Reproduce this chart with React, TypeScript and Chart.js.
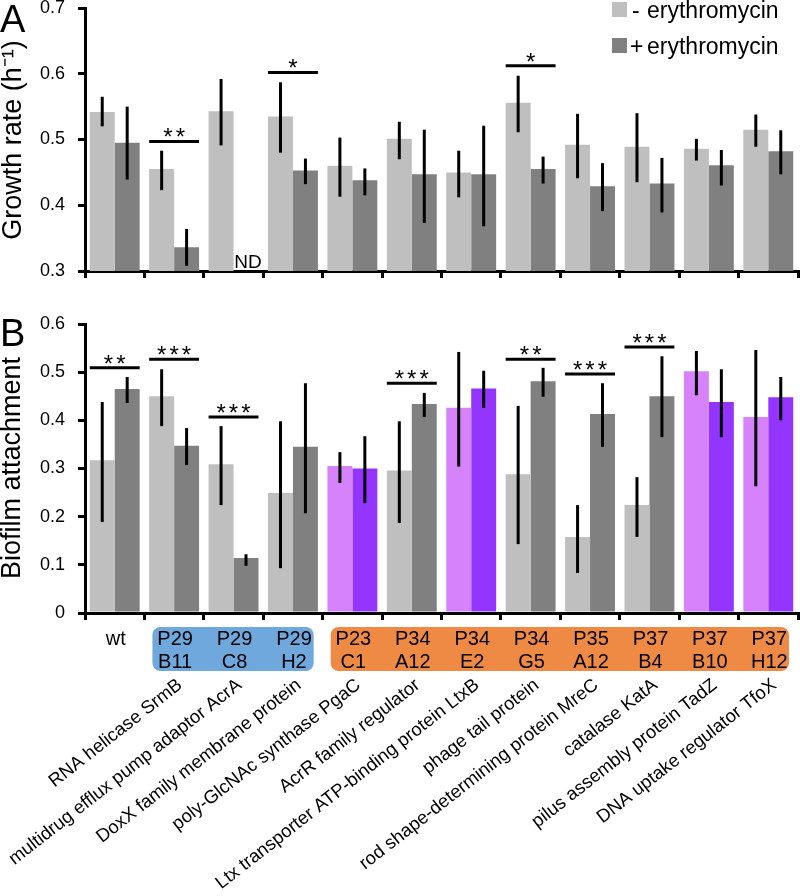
import React, { useEffect, useRef } from 'react';
import { Chart, registerables } from 'chart.js';
Chart.register(...registerables);

// ---------- data ----------
const categories = ['wt', 'P29 B11', 'P29 C8', 'P29 H2', 'P23 C1', 'P34 A12', 'P34 E2', 'P34 G5', 'P35 A12', 'P37 B4', 'P37 B10', 'P37 H12'];
const geneNames = [
  '',
  'RNA helicase SrmB',
  'multidrug efflux pump adaptor AcrA',
  'DoxX family membrane protein',
  'poly-GlcNAc synthase PgaC',
  'AcrR family regulator',
  'Ltx transporter ATP-binding protein LtxB',
  'phage tail protein',
  'rod shape-determining protein MreC',
  'catalase KatA',
  'pilus assembly protein TadZ',
  'DNA uptake regulator TfoX',
];
const highlighted = [false, false, false, false, true, false, true, false, false, false, true, true];
const groupFrom = [1, 4];
const groupTo = [3, 11];

const seriesLabels = ['- erythromycin', '+ erythromycin'];

const growthMinus = [0.542, 0.455, 0.543, 0.535, 0.460, 0.501, 0.450, 0.556, 0.492, 0.489, 0.486, 0.515];
const growthPlus = [0.495, 0.336, null, 0.453, 0.438, 0.447, 0.447, 0.455, 0.429, 0.433, 0.461, 0.482];
const growthMinusLow = [0.520, 0.423, 0.491, 0.480, 0.413, 0.470, 0.412, 0.511, 0.441, 0.435, 0.468, 0.489];
const growthMinusHigh = [0.565, 0.483, 0.592, 0.587, 0.503, 0.527, 0.483, 0.597, 0.539, 0.540, 0.501, 0.538];
const growthPlusLow = [0.439, 0.308, null, 0.432, 0.415, 0.373, 0.368, 0.433, 0.391, 0.389, 0.430, 0.447];
const growthPlusHigh = [0.550, 0.364, null, 0.471, 0.456, 0.515, 0.521, 0.474, 0.464, 0.472, 0.484, 0.514];

const biofilmMinus = [0.317, 0.450, 0.309, 0.249, 0.305, 0.296, 0.426, 0.288, 0.158, 0.224, 0.502, 0.407];
const biofilmPlus = [0.465, 0.347, 0.114, 0.345, 0.300, 0.434, 0.466, 0.481, 0.413, 0.450, 0.438, 0.448];
const biofilmMinusLow = [0.189, 0.388, 0.224, 0.093, 0.270, 0.187, 0.304, 0.143, 0.083, 0.158, 0.452, 0.263];
const biofilmMinusHigh = [0.438, 0.506, 0.388, 0.398, 0.334, 0.398, 0.542, 0.430, 0.224, 0.282, 0.544, 0.546];
const biofilmPlusLow = [0.436, 0.307, 0.098, 0.207, 0.228, 0.407, 0.426, 0.449, 0.345, 0.365, 0.365, 0.400];
const biofilmPlusHigh = [0.490, 0.384, 0.122, 0.477, 0.367, 0.457, 0.503, 0.509, 0.477, 0.533, 0.506, 0.490];

const sigACats = [1, 3, 7];
const sigALevels = [0.497, 0.602, 0.612];
const sigAMarks = ['**', '*', '*'];
const sigBCats = [0, 1, 2, 5, 7, 8, 9];
const sigBLevels = [0.509, 0.527, 0.407, 0.477, 0.527, 0.496, 0.552];
const sigBMarks = ['**', '***', '***', '***', '**', '***', '***'];

const ticksA = [0.3, 0.4, 0.5, 0.6, 0.7];
const ticksB = [0, 0.1, 0.2, 0.3, 0.4, 0.5, 0.6];
const ndCategory = 2;

// ---------- styles ----------
const FONT = "'Liberation Sans', Arial, Helvetica, sans-serif";
const GRAY_LIGHT = '#bfbfbf';
const GRAY_DARK = '#808080';
const PURPLE_LIGHT = '#d683fb';
const PURPLE_DARK = '#9334ff';
const BOX_COLORS = ['#6fa8dc', '#ef8a45'];
const OFF_A = 14; // canvas A is shifted up by this many pixels

function yScale(min: number, max: number, tickValues: number[], fmt: (v: number) => string) {
  return {
    min,
    max,
    afterBuildTicks: (s: any) => {
      s.ticks = tickValues.map((v) => ({ value: v }));
    },
    afterFit: (s: any) => {
      s.width = 85;
    },
    border: { display: true, color: '#000', width: 3 },
    grid: { drawOnChartArea: false, drawTicks: true, tickLength: 7, lineWidth: 3, color: '#000' },
    ticks: {
      color: '#000',
      padding: 13,
      font: { family: FONT, size: 18, lineHeight: 1 },
      callback: (v: any) => fmt(Number(v)),
    },
  };
}

function xScale(height: number) {
  return {
    type: 'category',
    offset: true,
    afterFit: (s: any) => {
      s.height = height;
    },
    border: { display: true, color: '#000', width: 3 },
    grid: { offset: true, drawOnChartArea: false, drawTicks: true, tickLength: 7, lineWidth: 3, color: '#000' },
    ticks: { display: false },
  };
}

function errorBarsPlugin(lows: (number | null)[][], highs: (number | null)[][]) {
  return {
    id: 'errorBars',
    afterDatasetsDraw(chart: any) {
      const ctx = chart.ctx;
      const y = chart.scales.y;
      ctx.save();
      ctx.strokeStyle = '#000';
      ctx.lineWidth = 3;
      for (let d = 0; d < lows.length; d++) {
        const meta = chart.getDatasetMeta(d);
        meta.data.forEach((el: any, i: number) => {
          const lo = lows[d][i];
          const hi = highs[d][i];
          if (lo == null || hi == null) return;
          ctx.beginPath();
          ctx.moveTo(el.x, y.getPixelForValue(lo));
          ctx.lineTo(el.x, y.getPixelForValue(hi));
          ctx.stroke();
        });
      }
      ctx.restore();
    },
  };
}

function sigPlugin(cats: number[], levels: number[], marks: string[]) {
  return {
    id: 'sig',
    afterDatasetsDraw(chart: any) {
      const ctx = chart.ctx;
      const y = chart.scales.y;
      const meta0 = chart.getDatasetMeta(0);
      ctx.save();
      ctx.strokeStyle = '#000';
      ctx.fillStyle = '#000';
      ctx.lineWidth = 3;
      ctx.font = `24px ${FONT}`;
      (ctx as any).letterSpacing = '3px';
      ctx.textAlign = 'center';
      ctx.textBaseline = 'alphabetic';
      cats.forEach((c, k) => {
        const el = meta0.data[c];
        const left = el.x - el.width / 2;
        const right = left + el.width * 2;
        const py = y.getPixelForValue(levels[k]);
        ctx.beginPath();
        ctx.moveTo(left, py);
        ctx.lineTo(right, py);
        ctx.stroke();
        ctx.fillText(marks[k], (left + right) / 2 + 1.5, py + 4);
      });
      ctx.restore();
    },
  };
}

function titlePlugin(letter: string, letterBaseline: number, title: string, titleCenterY: number, titleX: number) {
  return {
    id: 'titles',
    afterDraw(chart: any) {
      const ctx = chart.ctx;
      ctx.save();
      ctx.fillStyle = '#000';
      ctx.font = `38px ${FONT}`;
      ctx.textAlign = 'left';
      ctx.textBaseline = 'alphabetic';
      ctx.fillText(letter, 0, letterBaseline);
      ctx.translate(titleX, titleCenterY);
      ctx.rotate(-Math.PI / 2);
      ctx.font = `27px ${FONT}`;
      ctx.textAlign = 'center';
      ctx.textBaseline = 'middle';
      ctx.fillText(title, 0, 0);
      ctx.restore();
    },
  };
}

const legendPlugin = {
  id: 'legendA',
  afterDraw(chart: any) {
    const ctx = chart.ctx;
    ctx.save();
    const colors = [GRAY_LIGHT, GRAY_DARK];
    const tops = [2 + OFF_A, 38 + OFF_A];
    const signX = [632, 630];
    ctx.font = `23px ${FONT}`;
    ctx.textBaseline = 'alphabetic';
    ctx.textAlign = 'left';
    seriesLabels.forEach((lab, i) => {
      ctx.fillStyle = colors[i];
      ctx.fillRect(612, tops[i], 15, 15);
      ctx.fillStyle = '#000';
      const [sign, ...rest] = lab.split(' ');
      ctx.fillText(sign, signX[i], tops[i] + 16);
      ctx.fillText(rest.join(' '), 647, tops[i] + 16);
    });
    ctx.restore();
  },
};

const ndPlugin = {
  id: 'nd',
  afterDatasetsDraw(chart: any) {
    const ctx = chart.ctx;
    const x = chart.scales.x;
    const meta0 = chart.getDatasetMeta(0);
    const el = meta0.data[ndCategory];
    const cx = el ? el.x + el.width : x.getPixelForValue(ndCategory);
    ctx.save();
    ctx.fillStyle = '#000';
    ctx.font = `19px ${FONT}`;
    ctx.textAlign = 'center';
    ctx.textBaseline = 'alphabetic';
    ctx.fillText('ND', cx + 2, chart.chartArea.bottom - 3);
    ctx.restore();
  },
};

const categoryLabelsPlugin = {
  id: 'catLabels',
  afterDraw(chart: any) {
    const ctx = chart.ctx;
    const x = chart.scales.x;
    const bottom = chart.chartArea.bottom;
    const step = x.getPixelForValue(1) - x.getPixelForValue(0);
    ctx.save();
    // group boxes
    groupFrom.forEach((from, g) => {
      const left = x.getPixelForValue(from) - step / 2 + 8;
      const right = x.getPixelForValue(groupTo[g]) + step / 2 - 9;
      ctx.fillStyle = BOX_COLORS[g];
      ctx.beginPath();
      (ctx as any).roundRect(left, bottom + 14, right - left, 44, 8);
      ctx.fill();
    });
    ctx.fillStyle = '#000';
    ctx.font = `20px ${FONT}`;
    ctx.textAlign = 'center';
    ctx.textBaseline = 'alphabetic';
    categories.forEach((c, i) => {
      const cx = x.getPixelForValue(i);
      const parts = c.split(' ');
      ctx.fillText(parts[0], cx + 1, bottom + 32);
      if (parts[1]) ctx.fillText(parts[1], cx + 1, bottom + 55);
    });
    // rotated gene names
    ctx.font = `18.5px ${FONT}`;
    ctx.textAlign = 'right';
    ctx.textBaseline = 'middle';
    geneNames.forEach((g, i) => {
      if (!g) return;
      const cx = x.getPixelForValue(i);
      ctx.save();
      ctx.translate(cx + 6, bottom + 70);
      ctx.rotate((-38 * Math.PI) / 180);
      ctx.fillText(g, 0, 0);
      ctx.restore();
    });
    ctx.restore();
  },
};

export default function App() {
  const refA = useRef<HTMLCanvasElement>(null);
  const refB = useRef<HTMLCanvasElement>(null);

  useEffect(() => {
    Chart.defaults.font.family = FONT;
    const common = {
      responsive: false,
      animation: false as const,
      events: [] as any[],
      plugins: { legend: { display: false }, tooltip: { enabled: false } },
    };

    const chartA = new Chart(refA.current as HTMLCanvasElement, {
      type: 'bar',
      data: {
        labels: categories,
        datasets: [
          { label: seriesLabels[0], data: growthMinus, backgroundColor: GRAY_LIGHT, borderWidth: 0, categoryPercentage: 0.84, barPercentage: 1 },
          { label: seriesLabels[1], data: growthPlus as any, backgroundColor: GRAY_DARK, borderWidth: 0, categoryPercentage: 0.84, barPercentage: 1 },
        ],
      },
      options: {
        ...common,
        layout: { padding: { left: 0, right: 2, top: 0, bottom: 0 } },
        scales: {
          x: xScale(29) as any,
          y: yScale(0.3, 0.7, ticksA, (v) => v.toFixed(1)) as any,
        },
      },
      plugins: [
        errorBarsPlugin([growthMinusLow, growthPlusLow], [growthMinusHigh, growthPlusHigh]),
        sigPlugin(sigACats, sigALevels, sigAMarks),
        ndPlugin,
        legendPlugin,
        titlePlugin('A', 32 + OFF_A, 'Growth rate (h\u207B\u00B9)', 140 + OFF_A, 14),
      ],
    });

    const chartB = new Chart(refB.current as HTMLCanvasElement, {
      type: 'bar',
      data: {
        labels: categories,
        datasets: [
          {
            label: seriesLabels[0],
            data: biofilmMinus,
            backgroundColor: highlighted.map((h) => (h ? PURPLE_LIGHT : GRAY_LIGHT)),
            borderWidth: 0,
            categoryPercentage: 0.84,
            barPercentage: 1,
          },
          {
            label: seriesLabels[1],
            data: biofilmPlus,
            backgroundColor: highlighted.map((h) => (h ? PURPLE_DARK : GRAY_DARK)),
            borderWidth: 0,
            categoryPercentage: 0.84,
            barPercentage: 1,
          },
        ],
      },
      options: {
        ...common,
        layout: { padding: { left: 0, right: 2, top: 24, bottom: 0 } },
        scales: {
          x: xScale(283) as any,
          y: yScale(0, 0.6, ticksB, (v) => (v === 0 ? '0' : v.toFixed(1))) as any,
        },
      },
      plugins: [
        errorBarsPlugin([biofilmMinusLow, biofilmPlusLow], [biofilmMinusHigh, biofilmPlusHigh]),
        sigPlugin(sigBCats, sigBLevels, sigBMarks),
        categoryLabelsPlugin,
        titlePlugin('B', 46, 'Biofilm attachment', 168, 13),
      ],
    });

    return () => {
      chartA.destroy();
      chartB.destroy();
    };
  }, []);

  return (
    <div style={{ position: 'absolute', left: 0, top: 0, width: 800, height: 896, background: '#fff', overflow: 'hidden' }}>
      <canvas ref={refA} width={800} height={314} style={{ position: 'absolute', left: 0, top: -OFF_A, width: 800, height: 314 }} />
      <canvas ref={refB} width={800} height={596} style={{ position: 'absolute', left: 0, top: 300, width: 800, height: 596 }} />
    </div>
  );
}
